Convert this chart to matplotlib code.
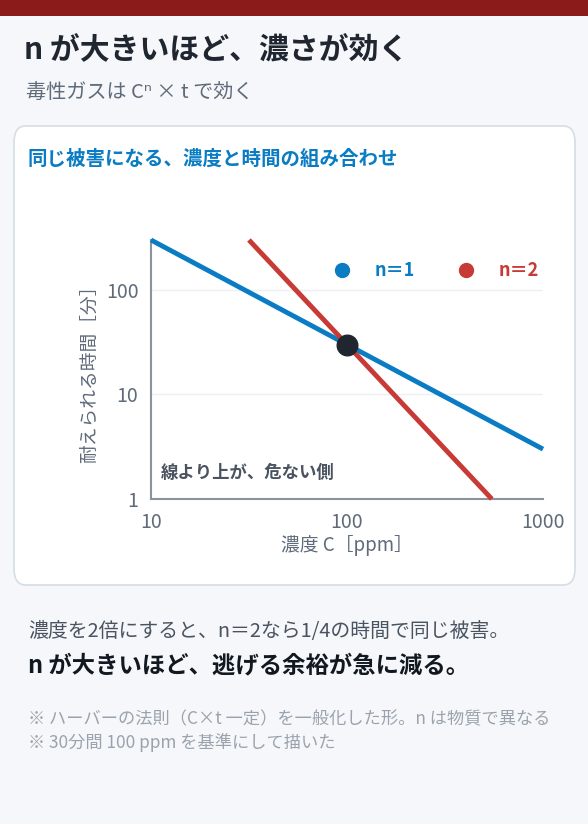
import matplotlib.pyplot as plt
from matplotlib.patches import FancyBboxPatch, Rectangle
from matplotlib.lines import Line2D

plt.rcParams['font.family'] = ['Noto Sans CJK JP', 'DejaVu Sans']

# data: equal-harm lines through 100 ppm x 30 min
conc_n1 = [10, 1000]
time_n1 = [300, 3]
conc_n2 = [31.6, 548]
time_n2 = [300, 1]
ref_conc = [100]
ref_time = [30]
x_ticks = [10, 100, 1000]
y_ticks = [1, 10, 100]

blue = '#0a7cc4'
red = '#c83a35'
gray = '#5f6b7a'

fig = plt.figure(figsize=(5.88, 8.24), dpi=100)
fig.patch.set_facecolor('#f5f7fa')
W, H = 588, 824

def fx(px): return px / W
def fy(py): return 1 - py / H

fig.patches.append(Rectangle((0, fy(16)), 1, 16 / H, transform=fig.transFigure,
                             facecolor='#8b1a1a', edgecolor='none'))
fig.patches.append(FancyBboxPatch((fx(14), fy(585)), fx(561), 459 / H,
                                  boxstyle='round,pad=0,rounding_size=0.02',
                                  transform=fig.transFigure, facecolor='white',
                                  edgecolor='#d5dde6', linewidth=1.2))

fig.text(fx(24), fy(50), 'n が大きいほど、濃さが効く', fontsize=21.5, fontweight='bold',
         color='#1f2630', va='center')
fig.text(fx(26), fy(92), '毒性ガスは Cⁿ × t で効く', fontsize=14.5, color=gray, va='center')
fig.text(fx(28), fy(159), '同じ被害になる、濃度と時間の組み合わせ', fontsize=14,
         fontweight='bold', color=blue, va='center')

ax = fig.add_axes([fx(151), fy(499), fx(392), (499 - 240) / H])
ax.set_zorder(3)
ax.set_facecolor('white')
ax.plot(conc_n1, time_n1, color=blue, lw=3.5, solid_capstyle='butt', zorder=3, clip_on=False)
ax.plot(conc_n2, time_n2, color=red, lw=3.5, solid_capstyle='butt', zorder=3, clip_on=False)
ax.scatter(ref_conc, ref_time, s=220, color='#1f2630', zorder=5)
ax.set_xscale('log')
ax.set_yscale('log')
ax.set_xlim(10, 1000)
ax.set_ylim(1, 300)
ax.set_xticks(x_ticks)
ax.set_xticklabels([str(v) for v in x_ticks])
ax.set_yticks(y_ticks)
ax.set_yticklabels([str(v) for v in y_ticks])
ax.minorticks_off()
ax.tick_params(length=0, labelsize=14, labelcolor=gray, pad=9)
ax.grid(axis='y', color='#eceff3', lw=1)
for s in ['top', 'right']:
    ax.spines[s].set_visible(False)
for s in ['left', 'bottom']:
    ax.spines[s].set_color('#8a939e')
    ax.spines[s].set_linewidth(1.5)
ax.set_xlabel('濃度 C［ppm］', fontsize=13.5, color=gray, labelpad=2)
ax.set_ylabel('耐えられる時間［分］', fontsize=13.5, color=gray, labelpad=4)
ax.text(0.025, 0.1, '線より上が、危ない側', transform=ax.transAxes, fontsize=12.5,
        fontweight='bold', color='#4a5360', va='center')

handles = [Line2D([], [], marker='o', ls='none', color=blue, markersize=10),
           Line2D([], [], marker='o', ls='none', color=red, markersize=10)]
leg = ax.legend(handles, ['n＝1', 'n＝2'], loc='upper right', ncol=2, frameon=False,
                bbox_to_anchor=(1.03, 0.98), handletextpad=0.8, columnspacing=1.8,
                prop={'size': 13, 'weight': 'bold'})
for txt, c in zip(leg.get_texts(), [blue, red]):
    txt.set_color(c)

fig.text(fx(28), fy(631), '濃度を2倍にすると、n＝2なら1/4の時間で同じ被害。', fontsize=14.3,
         color='#4a5360', va='center')
fig.text(fx(28), fy(665), 'n が大きいほど、逃げる余裕が急に減る。', fontsize=16.8,
         fontweight='bold', color='#111820', va='center')
fig.text(fx(28), fy(719), '※ ハーバーの法則（C×t 一定）を一般化した形。n は物質で異なる', fontsize=12.4,
         color='#9aa3ad', va='center')
fig.text(fx(28), fy(743), '※ 30分間 100 ppm を基準にして描いた', fontsize=12.4,
         color='#9aa3ad', va='center')

fig.savefig('out.png', dpi=100, facecolor=fig.get_facecolor())
